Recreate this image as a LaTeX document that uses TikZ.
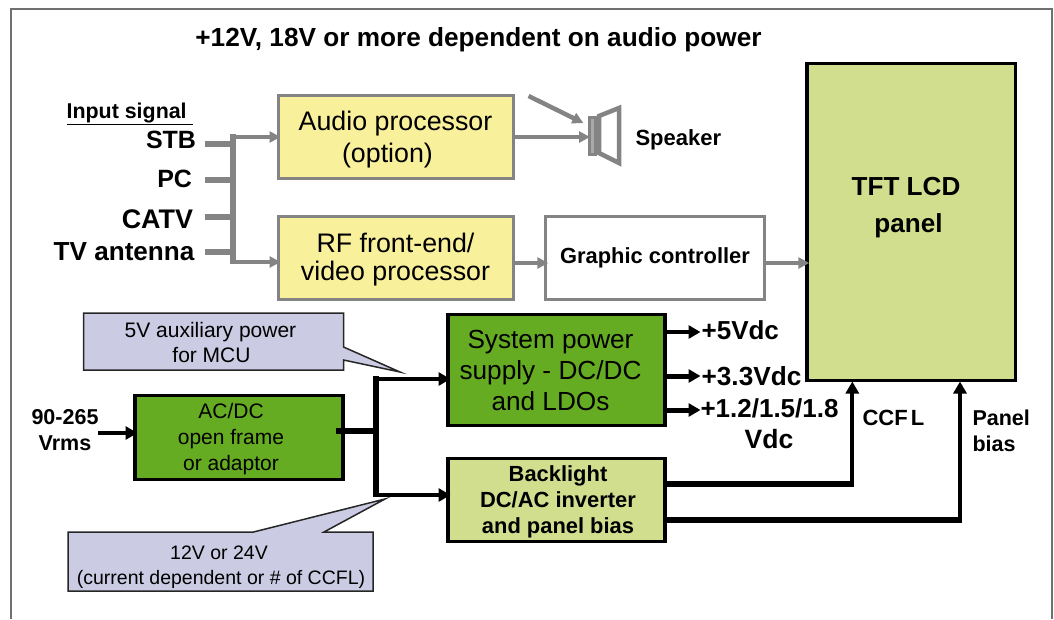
\documentclass[tikz,border=0pt]{standalone}
\usepackage{fontspec}
\setmainfont{Liberation Sans}
\usetikzlibrary{arrows.meta,calc}
\definecolor{cgray}{HTML}{848484}
\definecolor{cyellow}{HTML}{F9F09B}
\definecolor{cgreen}{HTML}{66AC22}
\definecolor{clight}{HTML}{D1DE8E}
\definecolor{clav}{HTML}{CBCBE3}
\newcommand{\fsz}[2]{\fontsize{#1}{#2}\selectfont}
\tikzset{
  graybox/.style={draw=cgray,line width=3pt,inner sep=0pt,outer sep=0pt,align=center},
  blackbox/.style={draw=black,line width=3.5pt,inner sep=0pt,outer sep=0pt,align=center},
  txt/.style={inner sep=0pt,outer sep=0pt,align=center},
  gbus/.style={draw=cgray,line width=6.2pt},
  garrow/.style={draw=cgray,line width=4.5pt,-{Triangle[length=11pt,width=11pt]},shorten >=-2.5pt},
  barrow/.style={draw=black,line width=4pt,-{Triangle[length=12pt,width=13pt]},shorten >=-2.5pt},
  bbus/.style={draw=black,line width=6pt},
  callout/.style={fill=clav,draw=black!85,line width=1.5pt,line join=miter},
}
\begin{document}
\begin{tikzpicture}[x=1pt,y=-1pt]
\useasboundingbox (0,0) rectangle (1054,619);
% frame
\draw[cgray!85!black,line width=2pt] (11,619) -- (11,9) -- (1052,9) -- (1052,619);
% title
\node[txt,anchor=base west,font=\fsz{26.2}{28}\bfseries] (title) at (195.4,46.5) {+12V, 18V or more dependent on audio power};
% input labels
\node[txt,anchor=base west,font=\fsz{21.4}{24}\bfseries] (insig) at (66.6,118) {\underline{Input signal\ }};
\node[txt,anchor=base east,font=\fsz{25}{28}\bfseries] (stb) at (196,148) {STB};
\node[txt,anchor=base east,font=\fsz{25}{28}\bfseries] (pc) at (192,187) {PC};
\node[txt,anchor=base east,font=\fsz{26.9}{28}\bfseries] (catv) at (193,228) {CATV};
\node[txt,anchor=base east,font=\fsz{26.1}{28}\bfseries] (tva) at (194.4,260) {TV antenna};
% boxes
\node[graybox,fill=cyellow,minimum width=235pt,minimum height=83pt] (audio) at (395.5,137) {};
\node[txt,font=\fsz{26.8}{32}] (audiotext) at (395.5,140) {Audio processor\\(option)\hspace*{16pt}};
\node[graybox,fill=cyellow,minimum width=235pt,minimum height=83pt] (rf) at (395.5,258) {};
\node[txt,font=\fsz{26.8}{28}] (rftext) at (395.5,260) {RF front-end/\\video processor};
\node[graybox,fill=white,minimum width=218.5pt,minimum height=83pt,font=\fsz{21.9}{26}\bfseries] (graphic) at (655,258) {Graphic controller};
\node[blackbox,fill=clight,minimum width=208.5pt,minimum height=317pt] (lcd) at (911,222) {};
\node[txt,font=\fsz{26.1}{37}\bfseries] (lcdtext) at (906,208) {TFT LCD\\\hspace*{5pt}panel};
\node[blackbox,fill=cgreen,minimum width=217pt,minimum height=111pt] (sys) at (556.5,370) {};
\node[txt,font=\fsz{26.2}{31}] (systext) at (550.5,370) {System power\\supply - DC/DC\\and LDOs};
\node[blackbox,fill=clight,minimum width=217pt,minimum height=83pt] (back) at (556.5,500) {};
\node[txt,font=\fsz{21.9}{26}\bfseries] (backtext) at (558,502) {Backlight\\DC/AC inverter\\and panel bias};
\node[blackbox,fill=cgreen,minimum width=208pt,minimum height=84pt] (acdc) at (239,437.5) {};
\node[txt,font=\fsz{21}{26}] (acdctext) at (231,439) {AC/DC\\open frame\\or adaptor};
% callouts
\path[callout] (83.5,313) -- (343.5,313) -- (343.5,347) -- (400,372) -- (343.5,360) -- (343.5,370) -- (83.5,370) -- cycle;
\node[txt,font=\fsz{21}{25}] (note1) at (210.5,342) {5V auxiliary power\\\hspace*{2pt}for MCU};
\path[callout] (68,532) -- (253.5,532) -- (385,499) -- (324,532) -- (373,532) -- (373,591) -- (68,591) -- cycle;
\node[txt,font=\fsz{19.5}{24.5}] (note2) at (221,567) {12V or 24V\hspace*{4pt}\\(current dependent or \# of CCFL)};
% speaker
\draw[cgray,line width=3pt,line join=miter,fill=cgray!70] (589,117) rectangle (595,154);
\draw[cgray,line width=4.5pt,line join=miter,fill=white] (599,116) -- (619,108) -- (619,163) -- (599,153) -- cycle;
\coordinate (spk) at (590,137);
\node[txt,anchor=base west,font=\fsz{22}{26}\bfseries] (speaker) at (635.5,145) {Speaker};
% gray connectors
\coordinate (busA) at (233,134);
\coordinate (busB) at (233,262);
\coordinate (stbin) at (204.5,144);
\coordinate (pcin) at (204.5,180);
\coordinate (catvin) at (204.5,217);
\coordinate (tvain) at (204.5,252);
\draw[gbus,line cap=butt] (stbin) -- (stbin -| busA);
\draw[gbus,line cap=butt] (pcin) -- (pcin -| busA);
\draw[gbus,line cap=butt] (catvin) -- (catvin -| busA);
\draw[gbus,line cap=butt] (tvain) -- (tvain -| busA);
\draw[gbus,line cap=butt] ($(busA)+(0,0)$) -- ($(busB)+(0,2)$);
\draw[garrow] (audio.west -| busA) -- (audio.west);
\draw[garrow] (busB) -- (busB -| rf.west);
\coordinate (diag) at (528.6,96);
\draw[garrow,shorten >=0pt] (diag) -- (583.4,123);
\draw[garrow,shorten >=0pt] (audio.east) -- (spk);
\draw[garrow] ([yshift=-5pt]rf.east) -- ([yshift=-5pt]graphic.west);
\draw[garrow] ([yshift=-5pt]graphic.east) -- ([yshift=-5pt]graphic.east -| lcd.west);
% black connectors
\coordinate (bbusA) at (376,376);
\coordinate (bbusB) at (376,497);
\coordinate (vin) at (98,433);
\draw[barrow] (vin) -- (vin -| acdc.west);
\draw[bbus] ([xshift=-7pt]acdc.east |- 0,431) -- (376,431);
\draw[bbus] (bbusA) -- (bbusB);
\draw[barrow] (376,379) -- (sys.west |- 0,379);
\draw[barrow] (376,495) -- (back.west |- 0,495);
\draw[barrow,line width=3.5pt] (sys.east |- 0,332) -- (698,332);
\draw[barrow,line width=5pt] (sys.east |- 0,376) -- (698,376);
\draw[barrow,line width=5pt] (sys.east |- 0,410) -- (698,410);
\draw[bbus] (back.east |- 0,484) -- (854.3,484);
\draw[barrow,line width=4pt] (852.3,486) -- (852.3,384);
\draw[bbus] (back.east |- 0,520) -- (962,520);
\draw[barrow,line width=4pt] (960,522) -- (960,384);
% output labels
\node[txt,anchor=base west,font=\fsz{26}{28}\bfseries] (v5) at (701.6,339.5) {+5Vdc};
\node[txt,anchor=base west,font=\fsz{26.2}{28}\bfseries] (v33) at (701.6,385.5) {+3.3Vdc};
\node[txt,anchor=base west,font=\fsz{26}{28}\bfseries] (v12) at (700.5,417) {+1.2/1.5/1.8};
\node[txt,anchor=base,font=\fsz{26.5}{28}\bfseries] (vdc) at (769,448) {Vdc};
\node[txt,anchor=base west,font=\fsz{22}{26}\bfseries] (ccfl) at (862.6,425) {CCF\kern3pt L};
\node[txt,anchor=base west,font=\fsz{21.5}{26}\bfseries] (p1) at (972.5,425) {Panel};
\node[txt,anchor=base west,font=\fsz{21.5}{26}\bfseries] (p2) at (972.5,451) {bias};
\node[txt,anchor=base,font=\fsz{21.5}{26}\bfseries] (r1) at (65,424) {90-265};
\node[txt,anchor=base,font=\fsz{21.5}{26}\bfseries] (r2) at (65,450) {Vrms};
\end{tikzpicture}
\end{document}
